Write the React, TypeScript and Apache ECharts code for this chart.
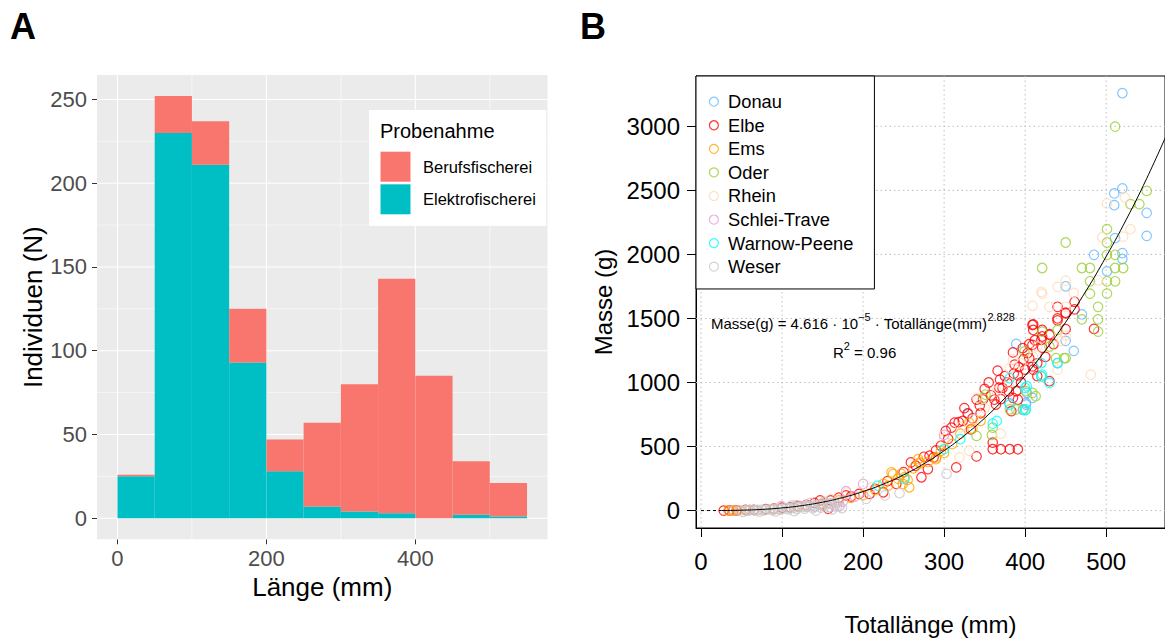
import React, { useEffect, useRef } from "react";
import * as echarts from "echarts";

// ---------- Panel A: histogram data ----------
const binStarts = [0, 50, 100, 150, 200, 250, 300, 350, 400, 450, 500];
const binWidth = 50;
const elektro = [25, 230, 211, 93, 28, 7, 4, 3, 0, 2, 1];
const beruf = [1, 22, 26, 32, 19, 50, 76, 140, 85, 32, 20];
const histXTicks = [0, 200, 400];
const histXMinor = [100, 300, 500];
const histYTicks = [0, 50, 100, 150, 200, 250];
const histYMinor = [25, 75, 125, 175, 225];

// ---------- Panel B: scatter data ----------
const rivers = ["Donau", "Elbe", "Ems", "Oder", "Rhein", "Schlei-Trave", "Warnow-Peene", "Weser"];
const riverColors = ["#63B8FF", "#FF0000", "#FFA500", "#9ACD32", "#FFDAB9", "#DDA0DD", "#00FFFF", "#C8C8C8"];

const donau = [[520,3259],[520,2515],[510,2476],[510,2385],[550,2325],[550,2145],[511,2127],[485,1997],[520,2010],[520,1964],[501,1868],[450,1751],[470,1532],[450,1325],[460,1247],[389,1301],[440,1152],[402,919],[401,841],[380,841],[330,756],[401,828],[397,787],[409,880]];
const elbe = [[440,1591],[461,1630],[450,1540],[440,1501],[485,1418],[409,1449],[430,1371],[420,1333],[409,1294],[385,1235],[397,1268],[461,1571],[450,1545],[440,1485],[450,1416],[430,1377],[410,1454],[410,1410],[421,1410],[421,1359],[421,1273],[405,1191],[410,1100],[387,1139],[366,1092],[369,1022],[391,1056],[372,958],[389,932],[391,867],[348,867],[364,828],[340,867],[329,758],[362,867],[313,686],[323,700],[309,648],[302,622],[296,506],[287,415],[259,376],[280,324],[315,337],[340,423],[360,479],[370,479],[381,479],[391,479],[360,531],[333,634],[385,880],[383,777],[272,260],[241,208],[409,1126],[430,1010],[282,428],[225,143],[208,130],[179,118],[157,14],[147,79],[44,2],[28,0],[55,6],[350,950],[355,1000],[375,1050],[395,1000],[400,1100],[405,1300],[415,1150],[380,930],[370,870],[345,760],[335,720],[325,800],[318,690],[305,560],[290,470],[275,420],[265,350],[250,300],[230,230],[215,170],[195,130],[185,110],[170,100],[160,80],[140,60],[120,35],[100,22],[80,12],[65,6],[150,50],[130,45],[110,25],[90,15],[35,1],[40,0],[378,1000],[392,1120],[403,1230],[412,1330],[398,1180],[386,1070],[358,900],[344,820],[368,960],[415,1050],[425,1200],[435,1300]];
const ems = [[237,286],[247,286],[251,260],[268,402],[290,402],[270,368],[257,182],[331,686],[296,467],[255,239],[249,208],[270,376],[290,415],[225,208],[235,299],[231,195],[38,2],[34,1],[280,380],[300,450],[310,520],[320,600],[262,330],[243,250],[215,160],[200,120],[185,100],[170,80],[150,55],[120,30],[90,14],[60,5],[45,2],[335,640],[345,700]];
const oder = [[511,2998],[550,2496],[541,2393],[530,2393],[501,2197],[501,2093],[450,2093],[421,1894],[470,1894],[480,1894],[501,1997],[511,1997],[511,1894],[521,1894],[480,1790],[501,1790],[511,1790],[480,1694],[501,1694],[490,1591],[470,1493],[490,1493],[490,1397],[421,1397],[440,1410],[448,1190],[438,1190],[409,919],[389,790],[401,932],[351,906],[340,583],[360,648],[398,790],[413,893],[381,790],[359,591],[348,880],[399,1242],[420,1048],[430,1281],[450,1191]];
const rhein = [[501,2398],[523,2445],[530,2197],[521,2139],[495,2134],[490,1798],[450,1795],[440,1747],[421,1694],[460,1700],[430,1591],[450,1591],[440,1351],[445,1325],[420,1708],[409,1599],[481,1061],[450,1366],[440,1100],[381,1113],[370,601],[331,467],[319,415],[341,880],[337,712],[395,1150],[380,1000],[410,1200],[365,930],[350,800],[320,650],[300,560],[385,1180],[415,1280],[180,140],[210,180],[160,90],[130,40]];
const schlei = [[200,208],[179,151],[171,35],[300,591],[118,40],[99,35],[150,40],[161,53],[130,30],[175,70],[190,110],[140,30],[165,35]];
const warnow = [[218,195],[251,247],[300,479],[320,557],[360,679],[381,1035],[381,828],[400,958],[400,782],[420,1152],[420,1048],[430,997],[440,1152],[402,971],[421,1061],[401,790],[365,700]];
const weser = [[303,286],[245,136],[227,118],[204,92],[40,0],[48,1],[55,2],[60,3],[65,4],[70,5],[75,6],[80,8],[85,9],[90,11],[95,13],[100,15],[105,18],[110,20],[115,24],[120,27],[125,30],[130,33],[135,37],[140,41],[145,45],[150,48],[155,53],[160,57],[165,62],[170,66],[58,0],[68,1],[78,2],[88,4],[98,6],[108,9],[118,12],[128,15],[138,19],[148,24],[158,28],[168,35],[112,40],[135,60],[152,70],[52,-10],[72,-8],[92,-6],[115,-4],[142,0],[162,10],[174,20]];
const riverData = [donau, elbe, ems, oder, rhein, schlei, warnow, weser];

// fitted curve
const curveX = [25, 50, 75, 100, 125, 150, 175, 200, 225, 250, 275, 300, 325, 350, 375, 400, 425, 450, 475, 500, 525, 550, 575];
const curveY = [0.41, 2.94, 9.27, 20.9, 39.3, 65.8, 101.7, 148.5, 207, 279, 365, 467.7, 586, 722, 878, 1054, 1251, 1471, 1714, 1984, 2275, 2593, 2941];
const dashX = [0, 25];
const dashY = [0, 0.41];

const scXTicks = [0, 100, 200, 300, 400, 500];
const scYTicks = [0, 500, 1000, 1500, 2000, 2500, 3000];

const FF = "'Liberation Sans', Arial, sans-serif";

function gridRender(stroke: string, dash: number[] | null, widths: number[]) {
  return (params: any, api: any) => {
    const cs = params.coordSys;
    const k = api.value(2);
    const p = api.coord([api.value(0), api.value(1)]);
    const shape = k < 2
      ? { x1: p[0], y1: cs.y, x2: p[0], y2: cs.y + cs.height }
      : { x1: cs.x, y1: p[1], x2: cs.x + cs.width, y2: p[1] };
    return {
      type: "line",
      shape,
      silent: true,
      style: { stroke, lineWidth: widths[k], lineDash: dash || undefined },
    };
  };
}

function histRender(color: string) {
  return (params: any, api: any) => {
    const p0 = api.coord([api.value(0), api.value(2)]);
    const p1 = api.coord([api.value(1), api.value(3)]);
    return {
      type: "rect",
      shape: { x: p0[0], y: p1[1], width: p1[0] - p0[0], height: p0[1] - p1[1] },
      style: { fill: color },
    };
  };
}

const plain = (v: number) => String(v);

export default function App() {
  const ref = useRef<HTMLDivElement>(null);
  useEffect(() => {
    document.body.style.margin = "0";
    const chart = echarts.init(ref.current!, null, { renderer: "svg" });

    const histGridData = [
      ...histXTicks.map((v) => [v, 0, 0]),
      ...histXMinor.map((v) => [v, 0, 1]),
      ...histYTicks.map((v) => [0, v, 2]),
      ...histYMinor.map((v) => [0, v, 3]),
    ];
    const scGridData = [
      ...scXTicks.map((v) => [v, 0, 0]),
      ...scYTicks.map((v) => [0, v, 2]),
    ];
    const elektroData = binStarts.map((s, i) => [s, s + binWidth, 0, elektro[i]]);
    const berufData = binStarts.map((s, i) => [s, s + binWidth, elektro[i], elektro[i] + beruf[i]]);

    const option: any = {
      animation: false,
      textStyle: { fontFamily: FF },
      grid: [
        { left: 97, top: 75, width: 450.5, height: 464.3, show: true, backgroundColor: "#EBEBEB", borderWidth: 0 },
        { left: 696, top: 76, width: 470, height: 455, show: true, backgroundColor: "transparent", borderColor: "#000", borderWidth: 1 },
      ],
      xAxis: [
        {
          type: "value", gridIndex: 0, min: -27.5, max: 577.5,
          axisLine: { show: false, onZero: false },
          axisTick: { show: true, customValues: histXTicks, length: 5, lineStyle: { color: "#333", width: 1 } },
          axisLabel: { customValues: histXTicks, formatter: plain, fontSize: 22, color: "#4D4D4D", margin: 8, fontFamily: FF },
          splitLine: { show: false },
          name: "Länge (mm)", nameLocation: "middle", nameGap: 34,
          nameTextStyle: { fontSize: 26, color: "#000", fontFamily: FF },
        },
        {
          type: "value", gridIndex: 1, min: -6.2, max: 572.6,
          axisLine: { show: true, onZero: false, lineStyle: { color: "#000", width: 1 } },
          axisTick: { show: true, customValues: scXTicks, length: 9, lineStyle: { color: "#000", width: 1 } },
          axisLabel: { customValues: scXTicks, formatter: plain, fontSize: 24, color: "#000", margin: 21, fontFamily: FF },
          splitLine: { show: false },
          name: "Totallänge (mm)", nameLocation: "middle", nameGap: 84,
          nameTextStyle: { fontSize: 24, color: "#000", fontFamily: FF },
        },
      ],
      yAxis: [
        {
          type: "value", gridIndex: 0, min: -12.6, max: 264.6,
          axisLine: { show: false, onZero: false },
          axisTick: { show: true, customValues: histYTicks, length: 5, lineStyle: { color: "#333", width: 1 } },
          axisLabel: { customValues: histYTicks, formatter: plain, fontSize: 22, color: "#4D4D4D", margin: 10, fontFamily: FF },
          splitLine: { show: false },
          name: "Individuen (N)", nameLocation: "middle", nameGap: 51,
          nameTextStyle: { fontSize: 26, color: "#000", fontFamily: FF },
        },
        {
          type: "value", gridIndex: 1, min: -136, max: 3393,
          axisLine: { show: true, onZero: false, lineStyle: { color: "#000", width: 1 } },
          axisTick: { show: true, customValues: scYTicks, length: 9, lineStyle: { color: "#000", width: 1 } },
          axisLabel: { customValues: scYTicks, formatter: plain, fontSize: 24, color: "#000", margin: 16, fontFamily: FF },
          splitLine: { show: false },
          name: "Masse (g)", nameLocation: "middle", nameGap: 81,
          nameTextStyle: { fontSize: 24, color: "#000", fontFamily: FF },
        },
      ],
      legend: [
        {
          left: 369, top: 110, orient: "vertical", selectedMode: false,
          data: [
            { name: "Berufsfischerei", icon: "rect" },
            { name: "Elektrofischerei", icon: "rect" },
          ],
          itemWidth: 30, itemHeight: 30, itemGap: 2.6,
          backgroundColor: "#fff",
          padding: [41.7, 10.4, 11.4, 11.5],
          textStyle: { fontSize: 16.5, color: "#000", fontFamily: FF, padding: [0, 0, 0, 7.5] },
        },
        {
          left: 696, top: 76, orient: "vertical", selectedMode: false,
          data: rivers.map((n) => ({ name: n, icon: "circle" })),
          itemWidth: 9, itemHeight: 9, itemGap: 0,
          backgroundColor: "#fff", borderColor: "#000", borderWidth: 1,
          padding: [13.9, 21, 10.5, 12.8],
          itemStyle: { borderWidth: 1.2, color: "transparent" },
          textStyle: { fontSize: 18.3, lineHeight: 23.57, color: "#000", fontFamily: FF, padding: [0, 0, 0, 4.7] },
        },
      ],
      graphic: [
        { type: "text", x: 10, y: 26, z: 100, style: { text: "A", fontSize: 36, fontWeight: "bold", fill: "#000", fontFamily: FF, verticalAlign: "middle", align: "left" } },
        { type: "text", x: 580, y: 26, z: 100, style: { text: "B", fontSize: 36, fontWeight: "bold", fill: "#000", fontFamily: FF, verticalAlign: "middle", align: "left" } },
        { type: "text", x: 380, y: 131, z: 100, style: { text: "Probenahme", fontSize: 20, fill: "#000", fontFamily: FF, verticalAlign: "middle", align: "left" } },
        {
          type: "text", x: 711, y: 323, z: 100,
          style: {
            text: "{a|Masse(g) = 4.616 · 10}{s|−5}{a| · Totallänge(mm)}{s|2.828}",
            verticalAlign: "middle", align: "left", fill: "#000", fontFamily: FF,
            rich: {
              a: { fontSize: 15, lineHeight: 24, fill: "#000", fontFamily: FF },
              s: { fontSize: 11, lineHeight: 10, verticalAlign: "top", fill: "#000", fontFamily: FF },
            },
          },
        },
        {
          type: "text", x: 833, y: 352, z: 100,
          style: {
            text: "{a|R}{s|2}{a| = 0.96}",
            verticalAlign: "middle", align: "left", fill: "#000", fontFamily: FF,
            rich: {
              a: { fontSize: 15, lineHeight: 24, fill: "#000", fontFamily: FF },
              s: { fontSize: 11, lineHeight: 10, verticalAlign: "top", fill: "#000", fontFamily: FF },
            },
          },
        },
      ],
      series: [
        {
          type: "custom", name: "gridA", xAxisIndex: 0, yAxisIndex: 0, silent: true, z: 1,
          renderItem: gridRender("#FFFFFF", null, [1.1, 0.55, 1.1, 0.55]),
          data: histGridData,
        },
        {
          type: "custom", name: "Elektrofischerei", xAxisIndex: 0, yAxisIndex: 0, z: 2,
          itemStyle: { color: "#00BFC4" },
          encode: { x: [0, 1], y: [2, 3] },
          renderItem: histRender("#00BFC4"),
          data: elektroData,
        },
        {
          type: "custom", name: "Berufsfischerei", xAxisIndex: 0, yAxisIndex: 0, z: 2,
          itemStyle: { color: "#F8766D" },
          encode: { x: [0, 1], y: [2, 3] },
          renderItem: histRender("#F8766D"),
          data: berufData,
        },
        {
          type: "custom", name: "gridB", xAxisIndex: 1, yAxisIndex: 1, silent: true, z: 1,
          renderItem: gridRender("#BEBEBE", [1.5, 3], [1, 1, 1, 1]),
          data: scGridData,
        },
        ...rivers.map((n, i) => ({
          type: "scatter", name: n, xAxisIndex: 1, yAxisIndex: 1, z: 2,
          symbol: "circle", symbolSize: 9.5, silent: true,
          itemStyle: { color: "transparent", borderColor: riverColors[i], borderWidth: 1.2 },
          data: riverData[i],
        })),
        {
          type: "line", name: "fit", xAxisIndex: 1, yAxisIndex: 1, z: 3, smooth: true,
          showSymbol: false, silent: true,
          lineStyle: { color: "#000", width: 1 },
          data: curveX.map((x, i) => [x, curveY[i]]),
        },
        {
          type: "line", name: "fit0", xAxisIndex: 1, yAxisIndex: 1, z: 3,
          showSymbol: false, silent: true,
          lineStyle: { color: "#000", width: 1, type: [3, 3] },
          data: dashX.map((x, i) => [x, dashY[i]]),
        },
      ],
    };
    chart.setOption(option);
    return () => chart.dispose();
  }, []);
  return <div ref={ref} style={{ width: 1165, height: 641 }} />;
}
